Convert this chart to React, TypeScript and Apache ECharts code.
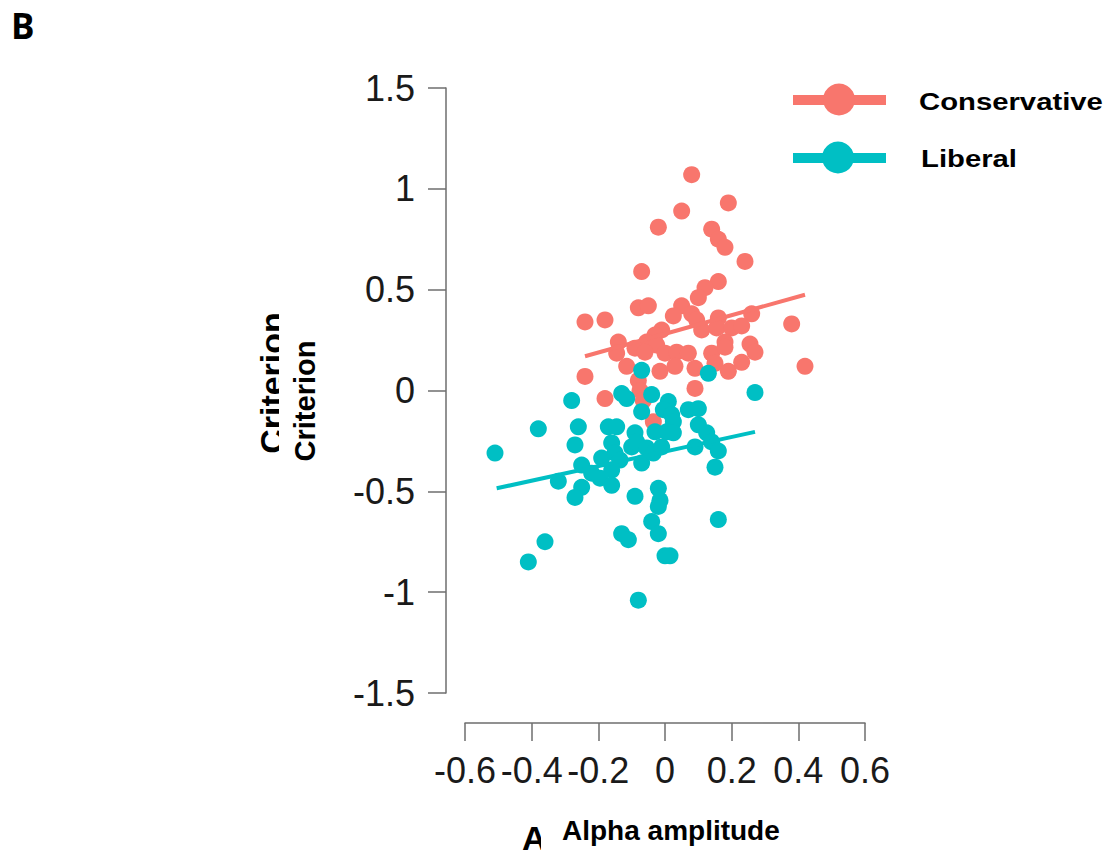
import React, { useEffect, useRef } from "react";
import * as echarts from "echarts";

const xTicks = { min: -0.6, max: 0.6, step: 0.2 };
const yTicks = { min: -1.5, max: 1.5, step: 0.5 };

const conservativeX = [0.08, 0.19, 0.05, -0.02, 0.14, 0.16, 0.18, 0.24, -0.07, 0.16, 0.12, 0.10, -0.08, -0.05, 0.05, 0.26, 0.025, 0.08, 0.095, 0.16, 0.38, -0.24, -0.18, -0.01, 0.11, 0.155, 0.20, 0.23, -0.03, -0.055, -0.14, -0.09, -0.025, 0.18, 0.255, 0.27, -0.145, -0.06, 0.0, 0.035, 0.07, 0.14, 0.18, -0.115, -0.015, 0.03, 0.09, 0.15, 0.19, 0.23, 0.42, -0.24, -0.08, 0.09, -0.18, -0.075, -0.065, -0.035];
const conservativeY = [1.07, 0.93, 0.89, 0.81, 0.80, 0.75, 0.71, 0.64, 0.59, 0.54, 0.51, 0.46, 0.41, 0.42, 0.42, 0.38, 0.37, 0.38, 0.35, 0.36, 0.33, 0.34, 0.35, 0.30, 0.30, 0.31, 0.31, 0.32, 0.275, 0.24, 0.24, 0.21, 0.225, 0.24, 0.23, 0.19, 0.185, 0.19, 0.185, 0.19, 0.185, 0.185, 0.215, 0.12, 0.095, 0.12, 0.11, 0.135, 0.095, 0.14, 0.12, 0.07, 0.05, 0.01, -0.04, 0.0, -0.05, -0.155];

const liberalX = [-0.51, -0.38, -0.28, -0.26, -0.27, -0.25, -0.32, -0.25, -0.27, -0.36, -0.41, -0.17, -0.145, -0.13, -0.115, -0.07, -0.04, -0.07, 0.01, -0.005, 0.02, 0.025, 0.005, 0.025, -0.09, -0.03, -0.16, -0.19, -0.15, -0.135, -0.16, -0.22, -0.195, -0.16, -0.10, -0.085, -0.055, -0.07, -0.035, -0.01, 0.07, 0.10, 0.10, 0.125, 0.09, 0.14, 0.16, 0.15, 0.13, 0.27, -0.09, -0.02, -0.015, -0.02, -0.04, -0.02, -0.13, -0.11, 0.0, 0.015, 0.16, -0.08];
const liberalY = [-0.31, -0.19, -0.05, -0.18, -0.27, -0.37, -0.45, -0.48, -0.53, -0.75, -0.85, -0.18, -0.18, -0.015, -0.04, 0.10, -0.02, -0.105, -0.055, -0.095, -0.12, -0.155, -0.205, -0.21, -0.21, -0.205, -0.26, -0.335, -0.31, -0.345, -0.395, -0.41, -0.435, -0.47, -0.28, -0.255, -0.285, -0.36, -0.31, -0.28, -0.095, -0.09, -0.17, -0.21, -0.28, -0.255, -0.30, -0.38, 0.085, -0.01, -0.525, -0.485, -0.545, -0.575, -0.65, -0.71, -0.71, -0.74, -0.82, -0.82, -0.64, -1.04];

const conservativeFitX = [-0.24, 0.42];
const conservativeFitY = [0.17, 0.475];
const liberalFitX = [-0.505, 0.27];
const liberalFitY = [-0.485, -0.205];

const seriesNames = ["Conservative", "Liberal"];
const seriesColors = ["#F8766D", "#00BFC4"];
const xTitle = "Alpha amplitude";
const xTitleShadow = "A";
const yTitle = "Criterion";
const panelLabel = "B";

const zip = (xs: number[], ys: number[]) => xs.map((x, i) => [x, ys[i]]);

export default function App() {
  const ref = useRef<HTMLDivElement>(null);
  useEffect(() => {
    document.body.style.margin = "0";
    document.body.style.overflow = "hidden";
    const chart = echarts.init(ref.current!, null, { renderer: "svg" });
    const tickFont = "Liberation Sans, Arial, sans-serif";
    const axisCommon = {
      type: "value" as const,
      splitLine: { show: false },
      axisLine: { show: true, onZero: false, lineStyle: { color: "#6e6e6e", width: 1.5 } },
      axisTick: { show: true, inside: false, length: 18, lineStyle: { color: "#6e6e6e", width: 1.5 } },
    };
    chart.setOption({
      animation: false,
      backgroundColor: "#ffffff",
      grid: { left: 465, right: 243, top: 88, bottom: 160 },
      xAxis: {
        ...axisCommon,
        min: xTicks.min,
        max: xTicks.max,
        interval: xTicks.step,
        position: "bottom",
        offset: 30,
        axisLabel: {
          margin: 29,
          fontSize: 36,
          fontFamily: tickFont,
          color: "#1a1a1a",
          formatter: (v: number) => String(Math.round(v * 10) / 10),
        },
      },
      yAxis: {
        ...axisCommon,
        min: yTicks.min,
        max: yTicks.max,
        interval: yTicks.step,
        position: "left",
        offset: 19,
        axisLabel: {
          margin: 31,
          fontSize: 36,
          fontFamily: tickFont,
          color: "#1a1a1a",
          formatter: (v: number) => String(Math.round(v * 10) / 10),
        },
      },
      series: [
        {
          name: seriesNames[0],
          type: "scatter",
          data: zip(conservativeX, conservativeY),
          symbolSize: 17,
          itemStyle: { color: seriesColors[0], opacity: 1 },
          z: 2,
        },
        {
          name: seriesNames[0] + " fit",
          type: "line",
          data: zip(conservativeFitX, conservativeFitY),
          showSymbol: false,
          lineStyle: { color: seriesColors[0], width: 4 },
          z: 3,
        },
        {
          name: seriesNames[1],
          type: "scatter",
          data: zip(liberalX, liberalY),
          symbolSize: 17,
          itemStyle: { color: seriesColors[1], opacity: 1 },
          z: 4,
        },
        {
          name: seriesNames[1] + " fit",
          type: "line",
          data: zip(liberalFitX, liberalFitY),
          showSymbol: false,
          lineStyle: { color: seriesColors[1], width: 4 },
          z: 5,
        },
      ],
      graphic: [
        {
          type: "text",
          left: 11,
          top: 8,
          style: { text: panelLabel, font: "bold 35px 'Open Sans', sans-serif", fill: "#000" },
        },
        // underlying larger titles, partly covered
        {
          type: "text",
          x: 272,
          y: 383,
          rotation: Math.PI / 2,
          style: { text: yTitle, font: "bold 34px 'Liberation Sans', Arial, sans-serif", fill: "#000", align: "center", verticalAlign: "middle" },
          z: 10,
        },
        {
          type: "text",
          x: 522,
          y: 838,
          style: { text: xTitleShadow, font: "bold 34px 'Liberation Sans', Arial, sans-serif", fill: "#000", align: "left", verticalAlign: "middle" },
          z: 10,
        },
        { type: "rect", shape: { x: 279, y: 295, width: 55, height: 185 }, style: { fill: "#fff" }, z: 11 },
        { type: "rect", shape: { x: 541, y: 800, width: 290, height: 53 }, style: { fill: "#fff" }, z: 11 },
        {
          type: "text",
          x: 305,
          y: 401,
          rotation: Math.PI / 2,
          style: { text: yTitle, font: "bold 29px 'Liberation Sans', Arial, sans-serif", fill: "#000", align: "center", verticalAlign: "middle" },
          z: 12,
        },
        {
          type: "text",
          x: 562,
          y: 830,
          style: { text: xTitle, font: "bold 28px 'Liberation Sans', Arial, sans-serif", fill: "#000", align: "left", verticalAlign: "middle" },
          z: 12,
        },
        // legend
        { type: "line", shape: { x1: 793, y1: 100, x2: 886, y2: 100 }, style: { stroke: seriesColors[0], lineWidth: 10 }, z: 12 },
        { type: "circle", shape: { cx: 839, cy: 99.5, r: 16 }, style: { fill: seriesColors[0] }, z: 13 },
        { type: "line", shape: { x1: 793, y1: 158, x2: 886, y2: 158 }, style: { stroke: seriesColors[1], lineWidth: 10 }, z: 12 },
        { type: "circle", shape: { cx: 838, cy: 157.5, r: 16 }, style: { fill: seriesColors[1] }, z: 13 },
        {
          type: "text",
          x: 919,
          y: 102,
          scaleX: 1.22,
          style: { text: seriesNames[0], font: "bold 24px 'Liberation Sans', Arial, sans-serif", fill: "#000", align: "left", verticalAlign: "middle" },
          z: 12,
        },
        {
          type: "text",
          x: 921,
          y: 159,
          scaleX: 1.22,
          style: { text: seriesNames[1], font: "bold 24px 'Liberation Sans', Arial, sans-serif", fill: "#000", align: "left", verticalAlign: "middle" },
          z: 12,
        },
      ],
    });
    return () => chart.dispose();
  }, []);
  return <div ref={ref} style={{ width: 1108, height: 853 }} />;
}
